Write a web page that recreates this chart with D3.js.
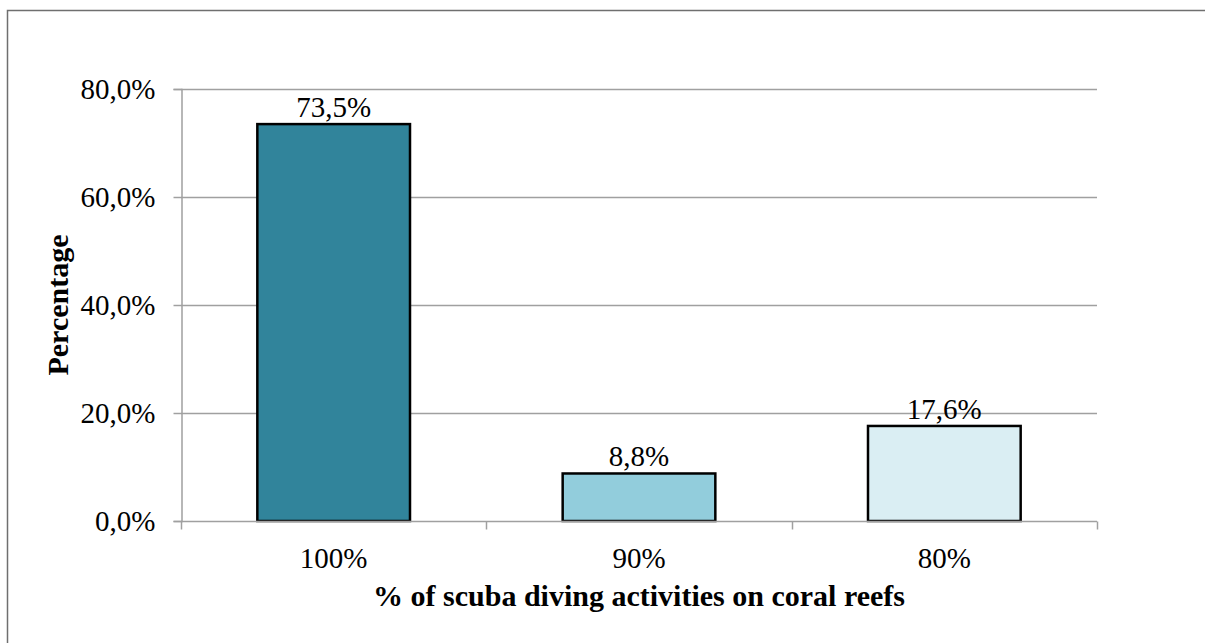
<!DOCTYPE html>
<html>
<head>
<meta charset="utf-8">
<script src="https://cdn.jsdelivr.net/npm/d3@7"></script>
<style>
  body { margin: 0; background: #fff; }
  svg text { font-family: "Liberation Serif", "Times New Roman", serif; fill: #000; }
</style>
</head>
<body>
<div id="chart"></div>
<script>
// chart data
let categories = ["100%", "90%", "80%"];
let values = [73.5, 8.8, 17.6];
let valueLabels = ["73,5%", "8,8%", "17,6%"];
let barColors = ["#31849B", "#92CDDC", "#DAEEF3"];
let yTicks = [0, 20, 40, 60, 80];
let yTickLabels = ["0,0%", "20,0%", "40,0%", "60,0%", "80,0%"];
let xTitle = "% of scuba diving activities on coral reefs";
let yTitle = "Percentage";

let svgWidth = 1205;
let svgHeight = 643;
let fontSize = "29px";

let margin = { top: 89, right: 108, bottom: 122, left: 181 };
let width = svgWidth - margin.left - margin.right;
let height = svgHeight - margin.top - margin.bottom;

let svg = d3.select("#chart")
    .append("svg")
    .attr("width", svgWidth)
    .attr("height", svgHeight);

// outer frame (runs off the right and bottom edges)
svg.append("rect")
    .attr("x", 7.5)
    .attr("y", 10.5)
    .attr("width", svgWidth + 20)
    .attr("height", svgHeight + 20)
    .attr("fill", "none")
    .attr("stroke", "#6f6f6f")
    .attr("stroke-width", 1.5);

let chartGroup = svg.append("g")
    .attr("transform", `translate(${margin.left}, ${margin.top})`);

let xScale = d3.scaleBand()
    .domain(categories)
    .range([0, width])
    .paddingInner(0.5)
    .paddingOuter(0.25);

let yScale = d3.scaleLinear()
    .domain([0, 80])
    .range([height, 0]);

// gridlines
chartGroup.append("g")
    .selectAll("line")
    .data(yTicks.filter(t => t > 0))
    .enter()
    .append("line")
    .attr("x1", 0)
    .attr("x2", width)
    .attr("y1", d => Math.round(yScale(d)) + 0.5)
    .attr("y2", d => Math.round(yScale(d)) + 0.5)
    .attr("stroke", "#a0a0a0")
    .attr("stroke-width", 1.5);

// y axis
let leftAxis = d3.axisLeft(yScale)
    .tickValues(yTicks)
    .tickSize(8)
    .tickPadding(18)
    .tickFormat((d, i) => yTickLabels[i]);

let yAxis = chartGroup.append("g")
    .attr("transform", "translate(0.5, 0)")
    .call(leftAxis);
yAxis.select(".domain").attr("stroke", "#a0a0a0").attr("stroke-width", 1.5);
yAxis.selectAll(".tick line").attr("stroke", "#a0a0a0").attr("stroke-width", 1.5);
yAxis.selectAll(".tick text")
    .style("font-family", "Liberation Serif")
    .style("font-size", fontSize);

// bars
chartGroup.append("g")
    .selectAll("rect")
    .data(values)
    .enter()
    .append("rect")
    .attr("x", (d, i) => xScale(categories[i]))
    .attr("y", d => yScale(d))
    .attr("width", xScale.bandwidth())
    .attr("height", d => height - yScale(d))
    .attr("fill", (d, i) => barColors[i])
    .attr("stroke", "#000")
    .attr("stroke-width", 2.5);

// x axis: domain line with ticks at category boundaries
let xAxis = chartGroup.append("g")
    .attr("transform", `translate(0, ${height + 0.5})`);
xAxis.append("line")
    .attr("x1", 0)
    .attr("x2", width)
    .attr("stroke", "#a0a0a0")
    .attr("stroke-width", 1.5);
xAxis.selectAll("line.tk")
    .data(d3.range(categories.length + 1))
    .enter()
    .append("line")
    .attr("class", "tk")
    .attr("x1", d => Math.round(d * width / categories.length) + 0.5)
    .attr("x2", d => Math.round(d * width / categories.length) + 0.5)
    .attr("y1", 0)
    .attr("y2", 8)
    .attr("stroke", "#a0a0a0")
    .attr("stroke-width", 1.5);
xAxis.selectAll("text")
    .data(categories)
    .enter()
    .append("text")
    .attr("x", d => xScale(d) + xScale.bandwidth() / 2)
    .attr("y", 46)
    .attr("text-anchor", "middle")
    .style("font-size", fontSize)
    .text(d => d);

// value labels
chartGroup.append("g")
    .selectAll("text")
    .data(values)
    .enter()
    .append("text")
    .attr("x", (d, i) => xScale(categories[i]) + xScale.bandwidth() / 2)
    .attr("y", d => yScale(d) - 7)
    .attr("text-anchor", "middle")
    .style("font-size", fontSize)
    .text((d, i) => valueLabels[i]);

// axis titles
chartGroup.append("text")
    .attr("x", width / 2)
    .attr("y", height + 85)
    .attr("text-anchor", "middle")
    .style("font-size", "30px")
    .style("font-weight", "bold")
    .text(xTitle);

chartGroup.append("text")
    .attr("transform", "rotate(-90)")
    .attr("x", -height / 2)
    .attr("y", -113)
    .attr("text-anchor", "middle")
    .style("font-size", "30px")
    .style("font-weight", "bold")
    .text(yTitle);
</script>
</body>
</html>
